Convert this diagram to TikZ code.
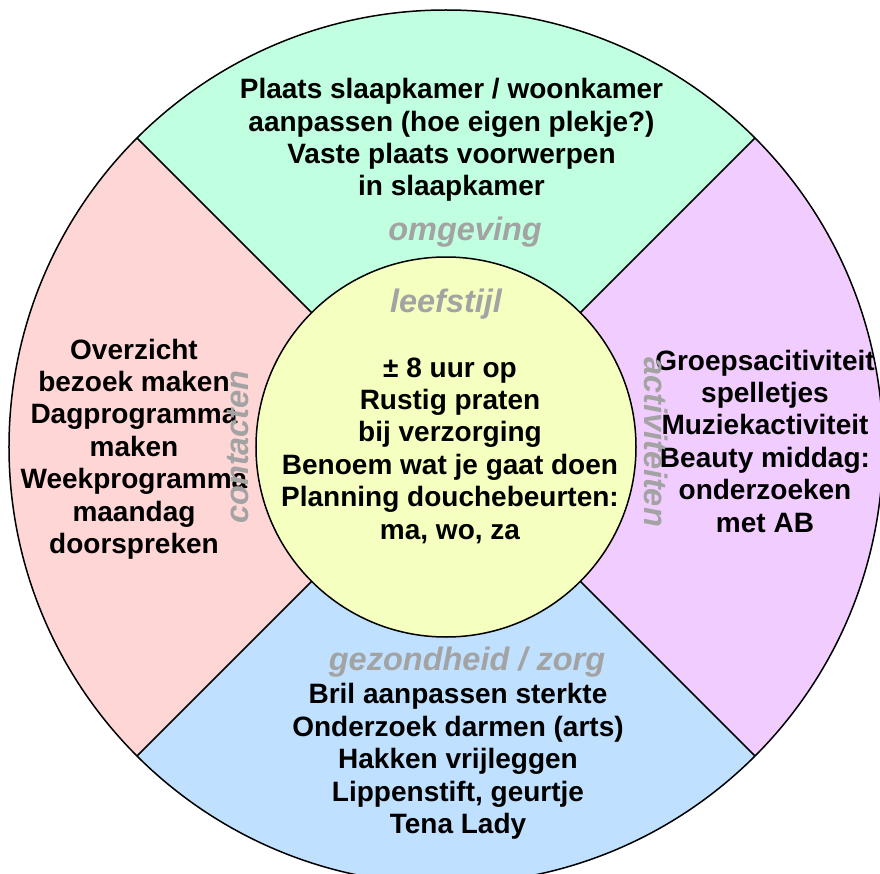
\documentclass[tikz,border=0pt]{standalone}
\usepackage{fontspec}
\setmainfont{Liberation Sans}
\definecolor{omgevingkl}{RGB}{192,255,224}
\definecolor{contactkl}{RGB}{255,214,214}
\definecolor{zorgkl}{RGB}{192,224,255}
\definecolor{activkl}{RGB}{241,205,255}
\definecolor{leefkl}{RGB}{245,255,192}
\definecolor{labelgrijs}{RGB}{163,163,163}
\tikzset{
  rand/.style={draw=black, line width=1.5pt},
  tekst/.style={align=center, inner sep=0pt,
    font=\fontsize{28}{32.4}\selectfont\bfseries},
  thema/.style={inner sep=0pt, text=labelgrijs,
    font=\fontsize{32.5}{36}\selectfont\bfseries\itshape}}
\begin{document}
\begin{tikzpicture}[x=1pt, y=1pt]
  \useasboundingbox (-446,-426) rectangle (434,447);
  \def\R{437}\def\r{190}
  % vier ringdelen: hoek, kleur
  \foreach \hk/\kl in {45/omgevingkl, 135/contactkl, 225/zorgkl, -45/activkl}
    \fill[\kl] (0,0) -- (\hk:\R) arc[start angle=\hk, delta angle=90, radius=\R] -- cycle;
  \foreach \hk in {45,135,225,315}
    \draw[rand] (\hk:\r) -- (\hk:\R); % scheidingslijnen
  \draw[rand] (0,0) circle[radius=\R];
  \filldraw[rand, fill=leefkl] (0,0) circle[radius=\r];

  % teksten per ringdeel
  \node[tekst] (omgeving) at (5.5,307) {Plaats slaapkamer / woonkamer\\aanpassen (hoe eigen plekje?)\\Vaste plaats voorwerpen\\in slaapkamer};
  \node[tekst] (contacten) at (-312,-2) {Overzicht\\bezoek maken\\Dagprogramma\\maken\\Weekprogramma\\maandag\\doorspreken};
  \node[tekst] (leefstijl) at (4,-3.5) {± 8 uur op\\Rustig praten\\bij verzorging\\Benoem wat je gaat doen\\Planning douchebeurten:\\ma, wo, za};
  \node[tekst] (activiteiten) at (319,6) {Groepsacitiviteit\\spelletjes\\Muziekactiviteit\\Beauty middag:\\onderzoeken\\met AB};
  \node[tekst] (zorg) at (12,-314.5) {Bril aanpassen sterkte\\Onderzoek darmen (arts)\\Hakken vrijleggen\\Lippenstift, geurtje\\Tena Lady};

  % grijze themanamen
  \node[thema] (omgevingnaam) at (19,215) {omgeving};
  \node[thema] (leefnaam) at (0,143) {leefstijl};
  \node[thema] (zorgnaam) at (21,-215) {gezondheid / zorg};
  \node[thema, rotate=90] (contactnaam) at (-208,0) {contacten};
  \node[thema, rotate=-90] (activnaam) at (210,5) {activiteiten};
\end{tikzpicture}
\end{document}
